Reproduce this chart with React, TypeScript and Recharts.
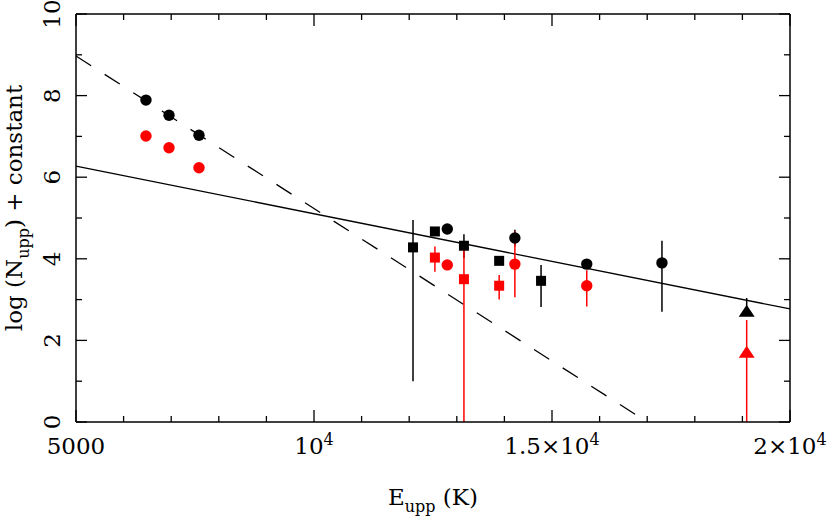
import React from 'react';
import {
  ComposedChart, Scatter, XAxis, YAxis, ErrorBar, ReferenceLine
} from 'recharts';

// E_upp (K) ticks and labels
const xTicks = [5000, 6000, 7000, 8000, 9000, 10000, 11000, 12000, 13000, 14000, 15000, 16000, 17000, 18000, 19000, 20000];
const xMajorTicks = [5000, 10000, 15000, 20000];
const xMajorLabels = ['5000', '10^4', '1.5×10^4', '2×10^4'];
const yTicks = [0, 1, 2, 3, 4, 5, 6, 7, 8, 9, 10];
const yLabels = ['0', '2', '4', '6', '8', '10'];

// black circles
const bcX = [6470, 6954, 7584, 12800, 14220, 15730, 17310];
const bcY = [7.89, 7.52, 7.03, 4.73, 4.51, 3.87, 3.90];
const bcLo = [0, 0, 0, 0.05, 0.2, 0.12, 1.2];
const bcHi = [0, 0, 0, 0.05, 0.2, 0.12, 0.54];

// red circles
const rcX = [6470, 6954, 7584, 12800, 14220, 15730];
const rcY = [7.01, 6.72, 6.23, 3.85, 3.87, 3.34];
const rcLo = [0, 0, 0, 0.12, 0.81, 0.51];
const rcHi = [0, 0, 0, 0.12, 0.8, 0.38];

// black squares
const bsX = [12080, 12540, 13150, 13890, 14770];
const bsY = [4.28, 4.67, 4.32, 3.95, 3.46];
const bsLo = [3.28, 0.08, 0.3, 0.1, 0.64];
const bsHi = [0.67, 0.08, 0.28, 0.1, 0.39];

// red squares
const rsX = [12540, 13150, 13890];
const rsY = [4.03, 3.5, 3.34];
const rsLo = [0.35, 3.5, 0.34];
const rsHi = [0.27, 0.8, 0.26];

// triangles
const btX = [19090];
const btY = [2.7];
const btLo = [0];
const btHi = [0.34];
const rtX = [19090];
const rtY = [1.7];
const rtLo = [1.7];
const rtHi = [0.8];

// fitted lines
const solidFit = [{ x: 5000, y: 6.27 }, { x: 20000, y: 2.77 }];
const dashedFit = [{ x: 5000, y: 8.97 }, { x: 17000, y: 0 }];

const PLOT_TOP = 14;
const PLOT_RIGHT = 790;
const FONT = 'DejaVu Serif';

const toRows = (xs: number[], ys: number[], lo: number[], hi: number[]) =>
  xs.map((x, i) => ({ x, y: ys[i], err: [lo[i], hi[i]] }));

const bcRows = toRows(bcX, bcY, bcLo, bcHi);
const rcRows = toRows(rcX, rcY, rcLo, rcHi);
const bsRows = toRows(bsX, bsY, bsLo, bsHi);
const rsRows = toRows(rsX, rsY, rsLo, rsHi);
const btRows = toRows(btX, btY, btLo, btHi);
const rtRows = toRows(rtX, rtY, rtLo, rtHi);

const circle = (color: string) => (p: any) => <circle cx={p.cx} cy={p.cy} r={5.7} fill={color} />;
const square = (color: string) => (p: any) => <rect x={p.cx - 5} y={p.cy - 5} width={10} height={10} fill={color} />;
const triangle = (color: string) => (p: any) => (
  <polygon points={`${p.cx - 8},${p.cy + 5} ${p.cx + 8},${p.cy + 5} ${p.cx},${p.cy - 7}`} fill={color} />
);

// "a^b" -> a with superscript b
const renderPow = (s: string) => {
  const [base, exp] = s.split('^');
  return (
    <>
      <tspan>{base}</tspan>
      {exp && <tspan dy={-9} fontSize={16}>{exp}</tspan>}
    </>
  );
};

const XTick = (props: any) => {
  const { x, y, payload } = props;
  const v = payload.value;
  const idx = xMajorTicks.indexOf(v);
  const len = idx >= 0 ? 12 : 6;
  return (
    <g>
      <line x1={x} y1={y} x2={x} y2={y - len} stroke="#000" strokeWidth={1.3} />
      <line x1={x} y1={PLOT_TOP} x2={x} y2={PLOT_TOP + len} stroke="#000" strokeWidth={1.3} />
      {idx >= 0 && (
        <text x={x} y={y + 32} textAnchor="middle" fontFamily={FONT} fontSize={23} fill="#000">
          {renderPow(xMajorLabels[idx])}
        </text>
      )}
    </g>
  );
};

const YTick = (props: any) => {
  const { x, y, payload } = props;
  const v = payload.value;
  const label = yLabels.indexOf(String(v)) >= 0 ? String(v) : null;
  const len = label ? 11 : 6;
  return (
    <g>
      <line x1={x} y1={y} x2={x + len} y2={y} stroke="#000" strokeWidth={1.3} />
      <line x1={PLOT_RIGHT} y1={y} x2={PLOT_RIGHT - len} y2={y} stroke="#000" strokeWidth={1.3} />
      {label && (
        <text x={x - 16} y={y} transform={`rotate(-90, ${x - 16}, ${y})`} textAnchor="middle"
          fontFamily={FONT} fontSize={23} fill="#000">
          {label}
        </text>
      )}
    </g>
  );
};

const XLabel = (props: any) => {
  const vb = props.viewBox;
  const cx = vb.x + vb.width / 2;
  const by = vb.y + 83;
  return (
    <text x={cx} y={by} textAnchor="middle" fontFamily={FONT} fontSize={23} fill="#000">
      <tspan>E</tspan>
      <tspan dy={7} fontSize={16}>upp</tspan>
      <tspan dy={-7}> (K)</tspan>
    </text>
  );
};

const YLabel = (props: any) => {
  const vb = props.viewBox;
  const bx = vb.x + 22;
  const cy = vb.y + vb.height / 2 - 10;
  return (
    <text x={bx} y={cy} transform={`rotate(-90, ${bx}, ${cy})`} textAnchor="middle"
      fontFamily={FONT} fontSize={23} fill="#000">
      <tspan>log (N</tspan>
      <tspan dy={7} fontSize={16}>upp</tspan>
      <tspan dy={-7}>)  +  constant</tspan>
    </text>
  );
};

const App: React.FC = () => {
  return (
    <div style={{ position: 'absolute', left: 0, top: 0, background: '#fff' }}>
      <ComposedChart width={830} height={520} margin={{ top: PLOT_TOP, right: 40, left: 0, bottom: 0 }}>
        <XAxis
          type="number" dataKey="x" domain={[5000, 20000]} ticks={xTicks} interval={0}
          tick={<XTick />} tickLine={false} tickSize={0} tickMargin={0} height={98}
          axisLine={{ stroke: '#000', strokeWidth: 1.5 }} allowDataOverflow
          label={{ content: (p: any) => <XLabel {...p} /> }}
        />
        <YAxis
          type="number" dataKey="y" domain={[0, 10]} ticks={yTicks} interval={0}
          tick={<YTick />} tickLine={false} tickSize={0} tickMargin={0} width={76}
          axisLine={{ stroke: '#000', strokeWidth: 1.5 }} allowDataOverflow
          label={{ content: (p: any) => <YLabel {...p} /> }}
        />
        <ReferenceLine y={10} stroke="#000" strokeWidth={1.5} />
        <ReferenceLine x={20000} stroke="#000" strokeWidth={1.5} />
        <ReferenceLine segment={solidFit} stroke="#000" strokeWidth={1.3} />
        <ReferenceLine segment={dashedFit} stroke="#000" strokeWidth={1.3} strokeDasharray="18 16" />

        <Scatter data={bsRows} dataKey="y" shape={square('#000')} isAnimationActive={false}>
          <ErrorBar dataKey="err" direction="y" width={0} stroke="#000" strokeWidth={1.5} isAnimationActive={false} />
        </Scatter>
        <Scatter data={bcRows} dataKey="y" shape={circle('#000')} isAnimationActive={false}>
          <ErrorBar dataKey="err" direction="y" width={0} stroke="#000" strokeWidth={1.5} isAnimationActive={false} />
        </Scatter>
        <Scatter data={btRows} dataKey="y" shape={triangle('#000')} isAnimationActive={false}>
          <ErrorBar dataKey="err" direction="y" width={0} stroke="#000" strokeWidth={1.5} isAnimationActive={false} />
        </Scatter>
        <Scatter data={rsRows} dataKey="y" shape={square('#ff0000')} isAnimationActive={false}>
          <ErrorBar dataKey="err" direction="y" width={0} stroke="#ff0000" strokeWidth={1.5} isAnimationActive={false} />
        </Scatter>
        <Scatter data={rcRows} dataKey="y" shape={circle('#ff0000')} isAnimationActive={false}>
          <ErrorBar dataKey="err" direction="y" width={0} stroke="#ff0000" strokeWidth={1.5} isAnimationActive={false} />
        </Scatter>
        <Scatter data={rtRows} dataKey="y" shape={triangle('#ff0000')} isAnimationActive={false}>
          <ErrorBar dataKey="err" direction="y" width={0} stroke="#ff0000" strokeWidth={1.5} isAnimationActive={false} />
        </Scatter>
      </ComposedChart>
    </div>
  );
};

export default App;
